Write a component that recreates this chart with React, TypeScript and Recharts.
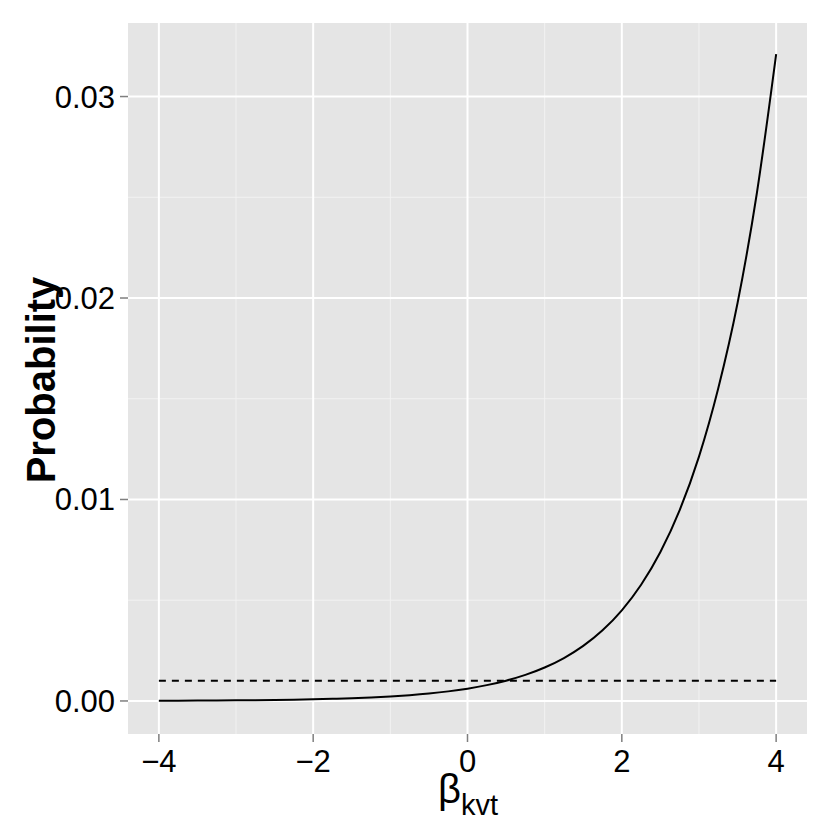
import React from "react";
import { LineChart, Line, XAxis, YAxis, CartesianGrid, ReferenceLine, Label } from "recharts";

const betaValues = [-4, -3.75, -3.5, -3.25, -3, -2.75, -2.5, -2.25, -2, -1.75, -1.5, -1.25, -1, -0.75, -0.5, -0.25, 0, 0.25, 0.5, 0.75, 1, 1.25, 1.5, 1.75, 2, 2.25, 2.5, 2.75, 3, 3.25, 3.5, 3.75, 4];
const probabilityValues = [0.0000112, 0.0000144, 0.0000185, 0.0000237, 0.0000304, 0.0000391, 0.0000502, 0.0000644, 0.0000827, 0.000106, 0.000136, 0.000175, 0.000225, 0.000289, 0.000371, 0.000476, 0.000611, 0.000785, 0.001007, 0.001292, 0.001659, 0.00213, 0.002731, 0.003505, 0.004497, 0.005766, 0.007392, 0.009471, 0.012128, 0.015519, 0.01975, 0.0252, 0.0321];
const thresholdValue = 0.001;

const xTicks = [-4, -2, 0, 2, 4];
const xMinor = [-3, -1, 1, 3];
const yTicks = [0, 0.01, 0.02, 0.03];
const yMinor = [0.005, 0.015, 0.025];

const data = betaValues.map((x, i) => ({ x, p: probabilityValues[i], threshold: thresholdValue }));

const FONT = "'Liberation Sans', Arial, Helvetica, sans-serif";

export default function App() {
  return (
    <div style={{ position: "absolute", left: 0, top: 0, width: 830, height: 830, background: "#fff" }}>
      <LineChart width={830} height={830} data={data} margin={{ top: 23, right: 23, bottom: 0, left: 0 }}>
        <CartesianGrid fill="#E5E5E5" stroke="none" horizontal={false} vertical={false} />
        {xMinor.map((v) => (
          <ReferenceLine key={"xm" + v} x={v} stroke="#F2F2F2" strokeWidth={1} />
        ))}
        {yMinor.map((v) => (
          <ReferenceLine key={"ym" + v} y={v} stroke="#F2F2F2" strokeWidth={1} />
        ))}
        {xTicks.map((v) => (
          <ReferenceLine key={"xM" + v} x={v} stroke="#FFFFFF" strokeWidth={2} />
        ))}
        {yTicks.map((v) => (
          <ReferenceLine key={"yM" + v} y={v} stroke="#FFFFFF" strokeWidth={2} />
        ))}
        <XAxis
          type="number"
          dataKey="x"
          domain={[-4.4, 4.4]}
          ticks={xTicks}
          allowDataOverflow
          height={96}
          axisLine={false}
          tickSize={8}
          tickMargin={8}
          tickLine={{ stroke: "#7F7F7F", strokeWidth: 1.5 }}
          tick={{ fill: "#000", fontSize: 31, fontFamily: FONT }}
          tickFormatter={(v: number) => String(v).replace("-", "\u2212")}
        >
          <Label
            content={() => (
              <text x={468} y={803} textAnchor="middle" fontFamily={FONT} fill="#000">
                <tspan fontSize={40}>β</tspan>
                <tspan fontSize={29} dy={12}>kvt</tspan>
              </text>
            )}
          />
        </XAxis>
        <YAxis
          type="number"
          domain={[-0.00164, 0.03365]}
          ticks={yTicks}
          allowDataOverflow
          width={128}
          axisLine={false}
          tickSize={8}
          tickMargin={5}
          tickLine={{ stroke: "#7F7F7F", strokeWidth: 1.5 }}
          tick={{ fill: "#000", fontSize: 31, fontFamily: FONT }}
          tickFormatter={(v: number) => v.toFixed(2)}
        >
          <Label
            content={() => (
              <text
                x={55}
                y={380}
                transform="rotate(-90 55 380)"
                textAnchor="middle"
                fontFamily={FONT}
                fontWeight="bold"
                fontSize={40}
                fill="#000"
              >
                Probability
              </text>
            )}
          />
        </YAxis>
        <Line
          type="monotone"
          dataKey="threshold"
          stroke="#000"
          strokeWidth={2}
          strokeDasharray="7 6"
          dot={false}
          isAnimationActive={false}
        />
        <Line type="monotone" dataKey="p" stroke="#000" strokeWidth={2} dot={false} isAnimationActive={false} />
      </LineChart>
    </div>
  );
}
